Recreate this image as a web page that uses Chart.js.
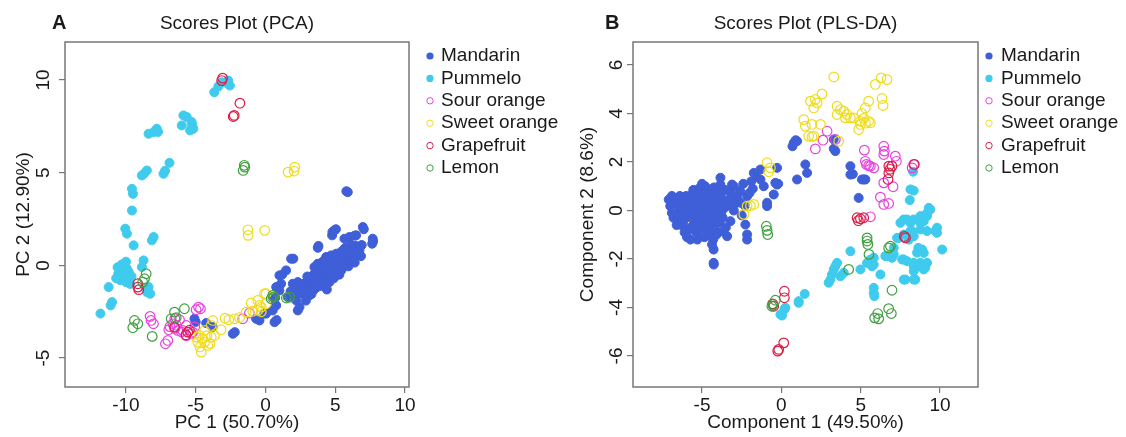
<!DOCTYPE html>
<html>
<head>
<meta charset="utf-8">
<script src="https://cdn.jsdelivr.net/npm/chart.js@4.4.1/dist/chart.umd.min.js"></script>
<style>
  html, body { margin: 0; padding: 0; background: #fff; }
  #wrap { position: relative; width: 1126px; height: 437px; }
  .panel { position: absolute; top: 0; width: 563px; height: 437px; }
</style>
</head>
<body>
<div id="wrap">
  <div class="panel" style="left:0"><canvas id="pca" width="563" height="437"></canvas></div>
  <div class="panel" style="left:563px"><canvas id="pls" width="563" height="437"></canvas></div>
</div>
<script>
// ---- groups (legend order) ----
const GROUPS = ['Mandarin', 'Pummelo', 'Sour orange', 'Sweet orange', 'Grapefruit', 'Lemon'];

// ---- tick labels ----
const PCA_X_TICKS = [-10, -5, 0, 5, 10];
const PCA_Y_TICKS = [-5, 0, 5, 10];
const PLS_X_TICKS = [-5, 0, 5, 10];
const PLS_Y_TICKS = [-6, -4, -2, 0, 2, 4, 6];

// ---- PCA scores [PC1, PC2] ----
const PCA_MANDARIN = [
  [5.8,4.0],[5.9,3.95],[4.8,1.8],[4.95,1.9],[5.05,1.95],[4.78,1.62],[6.98,2.07],[7.05,1.95],
  [5.66,1.44],[6.02,1.53],[6.5,1.62],[6.38,1.6],[7.69,1.44],[7.65,1.17],[7.72,1.3],[3.75,0.95],[3.8,1.05],
  [1.84,0.36],[2.0,0.36],[5.07,0.63],[5.66,0.9],[6.02,0.95],[6.38,0.99],[6.74,0.81],[6.02,0.54],
  [5.54,-0.09],[5.07,-0.27],[4.71,-0.54],[4.59,-0.9],[4.11,-0.63],[3.87,-0.36],[4.35,0.09],[4.83,0.09],
  [5.3,0.27],[5.78,0.45],[3.39,-0.54],[2.92,-0.9],[3.15,-1.1],[4.23,-0.9],[4.35,0.45],[4.71,0.54],
  [3.75,0.09],[3.51,-0.09],[3.63,-0.63],[3.39,-1.08],[3.03,-1.44],[3.15,-1.62],[2.67,-1.53],[2.56,-1.17],
  [2.32,-0.9],[1.96,-0.99],[2.0,-1.35],[1.8,-1.4],[2.2,-1.89],[2.44,-2.25],[2.32,-2.43],[1.48,-0.27],
  [1.0,-0.54],[1.2,-0.5],[1.12,-0.99],[0.77,-1.17],[0.52,-1.8],[0.7,-1.75],[0.65,-3.06],[0.8,-2.95],
  [-0.07,-2.6],[1.6,-1.71],[1.85,-1.65],[4.0,-0.2],[4.2,-0.45],[4.5,-0.1],[4.6,0.2],[4.9,-0.3],
  [5.2,0.1],[5.4,0.35],[5.5,0.6],[5.9,0.7],[6.2,0.75],[6.3,0.4],[6.6,0.6],[5.8,0.1],[5.3,-0.5],
  [4.9,-0.7],[4.4,-0.75],[3.9,-0.85],[3.6,-0.3],[4.1,0.2],[4.6,0.45],[5.0,0.35],[5.6,0.2],[6.1,0.25],
  [6.9,1.1],[6.5,1.05],[3.3,-0.8],[3.0,-0.6],[2.7,-1.0],[3.5,-1.3],[4.0,-1.1],[4.4,-1.3],[2.9,-1.9],
  [2.2,-1.2],[-0.43,-2.97],[-0.67,-2.88],[0.05,-2.6],[0.52,-2.43],[0.77,-2.16],[1.0,-1.35],
  [-5.09,-2.88],[-5.0,-3.05],[-4.25,-3.11],[-3.78,-3.33],[-2.34,-3.69],[-2.2,-3.6],
  [3.2,-1.3],[3.45,-0.85],[3.7,-0.55],[3.95,-0.1],[4.25,0.25],[4.5,0.1],[4.75,0.3],[5.15,0.5],
  [5.45,0.75],[5.75,0.95],[6.15,1.1],[6.6,0.9],[6.85,0.5],[6.4,0.15],[5.95,-0.05],[5.45,-0.25],
  [4.95,-0.5],[4.6,-0.6],[4.15,-0.95],[3.75,-1.15],[3.3,-1.55],[2.85,-1.3],[2.45,-1.5],[2.1,-1.6]
];
const PCA_PUMMELO = [
  [-3.67,9.34],[-3.38,9.65],[-3.14,9.88],[-2.67,9.97],[-2.55,9.7],[-2.8,9.85],
  [-5.88,8.09],[-5.64,8.0],[-6.0,7.55],[-5.29,7.73],[-5.17,7.37],[-5.4,7.28],[-5.25,7.55],
  [-8.38,7.1],[-7.79,7.37],[-8.02,7.19],[-7.7,7.2],[-6.88,5.53],[-7.31,4.94],[-7.2,5.1],
  [-8.86,4.85],[-8.5,5.12],[-8.7,4.95],[-9.57,4.13],[-9.5,3.86],[-9.57,2.96],
  [-10.05,1.98],[-9.93,1.71],[-9.45,1.08],[-8.02,1.53],[-8.14,1.35],
  [-10.6,-0.1],[-10.3,0.05],[-10.0,0.2],[-10.2,-0.2],[-10.55,-0.45],[-10.1,-0.5],[-9.8,-0.35],
  [-10.4,-0.8],[-10.0,-0.9],[-9.7,-1.0],[-10.7,-0.7],[-9.95,-0.15],[-9.6,-0.6],[-10.35,-0.55],
  [-11.24,-1.17],[-11.0,-1.98],[-11.1,-2.16],[-11.83,-2.6],
  [-8.74,0.27],[-8.86,-0.09],[-8.38,-1.17],[-8.26,-1.53],[-8.5,-1.44],[-8.6,-1.2]
];
const PCA_SOUR = [
  [-8.27,-2.75],[-8.2,-2.97],[-8.03,-3.15],[-6.93,-3.47],[-6.85,-3.3],[-7.17,-4.23],[-7.0,-4.05],
  [-6.16,-2.93],[-5.93,-3.51],[-5.68,-3.79],[-5.21,-3.6],[-4.97,-2.39],[-4.66,-2.34],[-4.8,-2.25],
  [-6.28,-3.51],[-6.64,-3.15],[-1.63,-2.88],[-1.15,-2.57],[-5.68,-3.24],[-6.5,-2.87],[-6.38,-3.23],
  [-6.02,-3.59],[-5.31,-3.68],[-5.07,-3.32],[-6.5,-3.4]
];
const PCA_SWEET = [
  [1.62,5.03],[2.1,5.3],[2.05,5.09],[-1.26,1.92],[-1.24,1.62],[-0.05,1.89],
  [-4.61,-4.68],[-4.85,-4.14],[-4.37,-4.14],[-4.13,-4.32],[-4.73,-3.78],[-3.89,-3.87],[-3.66,-3.78],
  [-3.78,-2.97],[-3.89,-3.24],[-3.18,-3.47],[-2.63,-2.93],[-2.22,-2.88],[-1.86,-2.82],[-2.9,-2.85],
  [-1.38,-2.52],[-1.03,-2.03],[-0.55,-1.89],[-0.43,-2.16],[-0.55,-2.43],[-0.3,-2.5],[0.05,-1.53],
  [-0.91,-2.47],[-4.97,-3.87],[-4.2,-3.8],[-4.37,-3.51],[-0.07,-1.53],[0.05,-2.07],[-0.31,-2.25],
  [-4.69,-4.4],[-3.98,-4.22],[-4.5,-3.95]
];
const PCA_GRAPEFRUIT = [
  [-3.07,10.1],[-3.14,9.97],[-1.83,8.75],[-2.24,8.09],[-2.31,8.03],
  [-9.15,-0.99],[-9.15,-1.17],[-9.08,-1.31],[-6.52,-3.33],[-5.57,-3.6],[-5.45,-3.5],[-5.7,-3.75]
];
const PCA_LEMON = [
  [-1.48,5.3],[-1.6,5.12],[-1.52,5.4],[-8.55,-0.45],[-8.67,-0.72],[-8.8,-0.9],
  [-9.39,-2.97],[-9.15,-3.15],[-9.51,-3.36],[-8.12,-3.83],[-6.52,-2.52],[-6.76,-2.88],[-5.81,-2.34],
  [-6.4,-2.82],[0.41,-1.8],[0.52,-1.62],[0.6,-1.7],[1.5,-1.76],[1.74,-1.71]
];

// ---- PLS-DA scores [Component 1, Component 2] ----
const PLS_MANDARIN = [
  [-7.1,0.45],[-7.0,0.18],[-6.9,-0.1],[-6.6,0.3],[-6.5,-0.3],[-6.4,0.0],[-6.3,-0.6],[-6.2,0.4],
  [-6.1,0.1],[-6.0,-0.3],[-5.9,-0.8],[-5.8,0.55],[-5.73,-1.2],[-5.7,0.2],[-5.6,-0.1],[-5.5,-0.5],
  [-5.4,0.7],[-5.35,0.3],[-5.3,-0.9],[-5.2,0.0],[-5.1,-0.3],[-5.05,0.5],[-5.0,-0.65],[-4.95,0.85],
  [-4.9,0.2],[-4.85,-1.1],[-4.8,-0.15],[-4.75,0.45],[-4.7,-0.45],[-4.6,0.05],[-4.55,-0.8],[-4.5,0.65],
  [-4.45,0.3],[-4.4,-0.25],[-4.3,-1.2],[-4.25,0.95],[-4.2,0.1],[-4.15,-0.55],[-4.1,0.5],[-4.0,-0.1],
  [-3.95,-0.9],[-3.9,0.3],[-3.84,1.35],[-3.8,0.75],[-3.7,-0.3],[-3.6,0.1],[-3.5,-0.7],[-3.42,-1.06],
  [-3.3,0.45],[-3.21,-0.44],[-3.11,1.07],[-3.0,1.0],[-3.0,0.0],[-2.8,0.55],[-2.58,0.32],
  [-6.7,0.5],[-6.8,-0.3],[-6.3,-0.2],[-6.0,0.6],[-5.9,0.2],[-5.6,0.4],[-5.5,0.0],[-5.4,-0.3],
  [-5.2,0.4],[-5.15,-0.6],[-5.0,0.15],[-4.9,-0.4],[-4.7,0.15],[-4.65,0.7],[-4.5,-0.2],[-4.4,0.4],
  [-4.3,-0.7],[-4.2,-0.3],[-4.05,0.2],[-3.9,-0.5],[-3.75,0.5],[-4.6,-1.0],[-5.3,-1.2],[-5.7,-0.7],
  [-6.1,-0.9],[-4.8,1.0],[-5.2,0.9],
  [-6.6,-0.6],[-6.4,0.6],[-5.8,-0.2],[-5.55,0.85],[-5.45,-0.85],[-5.0,1.1],[-4.6,-0.6],[-4.35,0.85],
  [-4.0,0.6],[-3.65,-0.85],[-3.55,0.85],[-3.4,0.2],[-3.2,0.75],[-2.9,0.3],[-2.6,0.8],[-2.4,1.1],
  [-2.3,0.2],[-2.5,-0.2],[-1.9,1.2],[-1.8,0.9],[-6.9,0.6],[-6.2,-0.5],[-5.95,-1.1],[-5.25,-0.15],
  [-4.75,-0.8],[-4.1,-1.0],[-3.8,-0.1],[-4.85,0.6],[-5.65,0.65],[-6.45,0.15],
  [-4.27,-1.61],[-4.37,-1.4],[-4.27,-2.16],[-4.26,-2.23],[-3.84,1.07],[-2.27,-0.58],[-2.16,-0.99],
  [-2.16,-1.2],[-2.16,0.59],[-2.0,0.73],[-1.74,1.55],[-1.6,1.4],[-1.32,1.28],[-1.32,1.69],[-1.11,1.0],
  [-0.9,0.32],[-0.9,0.18],[-0.48,0.66],[-0.27,1.07],[-0.38,1.14],[-0.27,1.76],[-0.2,1.1],[0.99,1.28],
  [0.78,2.79],[0.9,2.9],[0.99,2.86],[0.7,2.65],[1.51,1.9],[1.62,1.55],[3.3,2.93],[3.4,2.45],[3.3,2.55],
  [4.35,1.83],[4.35,1.48],[4.5,1.5],[5.08,1.28],[5.29,1.28],[4.87,0.52],[5.19,1.28]
];
const PLS_PUMMELO = [
  [8.3,1.6],[8.13,0.87],[8.34,0.82],[8.09,0.43],[9.29,0.11],[9.39,0.04],[9.18,-0.1],[9.18,-0.23],
  [8.97,-0.44],[8.76,-0.23],[8.34,-0.37],[7.92,-0.37],[7.71,-0.37],[7.5,-0.51],[8.13,-0.51],[8.76,-0.51],
  [8.24,-0.85],[8.76,-0.78],[9.18,-0.85],[9.7,-0.85],[9.81,-0.71],[9.81,-0.92],[10.13,-1.61],[8.34,-1.06],
  [8.03,-1.2],[8.13,-0.85],[7.71,-0.99],[7.39,-1.13],[7.29,-1.13],[7.08,-1.54],[8.55,-1.74],[8.63,-1.54],
  [8.87,-1.61],[8.97,-1.75],[9.18,-2.16],[8.76,-2.16],[8.34,-2.16],[8.34,-2.3],[7.92,-2.09],[7.71,-2.02],
  [7.61,-2.02],[8.55,-2.3],[8.97,-2.43],[9.07,-2.36],[8.34,-2.5],[7.71,-2.85],[7.81,-2.85],[8.44,-2.85],
  [8.34,-2.85],[7.08,-1.81],[6.97,-1.95],[6.66,-1.88],[6.55,-1.88],[5.82,-1.95],[5.61,-2.02],[5.82,-2.23],
  [5.61,-2.16],[5.71,-2.3],[5.4,-2.16],[6.24,-2.64],[5.82,-3.19],[5.82,-3.4],[5.86,-3.53],[4.98,-2.43],
  [4.35,-1.68],[3.51,-2.16],[3.4,-2.3],[3.3,-2.43],[3.19,-2.64],[3.09,-2.85],[2.98,-2.98],[3.72,-2.71],
  [3.93,-2.57],[1.09,-3.74],[1.09,-3.81],[1.47,-3.44],[0.25,-4.01],[0.19,-4.08],[-0.06,-4.29],[0.04,-4.33]
];
const PLS_SOUR = [
  [2.88,3.27],[2.62,2.9],[2.14,2.54],[3.4,2.93],[5.23,2.49],[5.29,2.03],[5.36,1.9],[5.5,1.85],
  [5.61,1.83],[5.82,1.76],[6.45,2.65],[6.49,2.45],[6.45,2.31],[7.18,2.24],[7.25,2.03],[8.34,1.9],
  [8.24,1.76],[7.04,0.98],[6.45,1.14],[6.24,0.55],[6.45,0.25],[6.76,0.29],[5.61,-0.26]
];
const PLS_SWEET = [
  [3.3,5.51],[5.92,5.2],[6.28,5.47],[6.66,5.4],[6.34,4.62],[6.41,4.33],[5.5,4.51],[5.29,4.23],
  [5.08,4.0],[5.19,3.8],[4.98,3.55],[4.87,3.34],[4.98,3.68],[5.5,3.68],[5.61,3.62],[5.3,3.6],
  [4.56,3.82],[4.35,3.82],[4.03,3.82],[3.93,4.1],[3.72,4.16],[3.51,4.3],[4.14,3.96],[3.51,3.96],
  [2.56,4.81],[2.14,4.58],[1.83,4.51],[2.25,4.44],[2.04,4.23],[1.41,3.75],[1.51,3.48],[1.93,3.55],
  [2.46,3.55],[1.72,3.07],[2.04,3.07],[1.93,3.04],[3.61,2.86],
  [-0.9,1.97],[-0.69,1.76],[-0.8,1.6],[-2.16,0.18],[-1.74,0.25],[-2.37,-0.16],[-1.95,0.2]
];
const PLS_GRAPEFRUIT = [
  [6.77,1.83],[6.77,1.55],[6.72,1.28],[6.97,1.83],[6.85,1.7],[4.77,-0.3],[4.98,-0.34],[5.19,-0.3],
  [4.85,-0.42],[7.82,-1.13],[7.75,-1.07],[0.19,-3.33],[0.19,-3.6],[-0.48,-3.95],[-0.55,-3.85],
  [0.15,-5.46],[-0.17,-5.73],[-0.23,-5.8],[8.38,1.9]
];
const PLS_LEMON = [
  [-0.95,-0.65],[-0.9,-0.82],[-0.86,-0.99],[5.4,-1.13],[5.4,-1.26],[5.45,-1.4],[5.52,-1.81],
  [6.76,-1.54],[6.87,-1.47],[4.24,-2.43],[6.97,-3.29],[6.76,-4.05],[6.93,-4.25],[6.07,-4.25],
  [5.88,-4.43],[6.13,-4.47],[-0.52,-3.88],[-0.38,-3.7],[-0.6,-3.95]
];

// ---- styling ----
const FONT = '"Liberation Sans", Arial, sans-serif';
const TEXT = '#1a1a1a';
const FRAME = '#777777';
const COLORS = ['#3f5fd8', '#3ecbee', '#e843dc', '#f0dc1e', '#dc1e46', '#40a040'];
const FILLED = [true, true, false, false, false, false];

function makeDatasets(series) {
  // open circles are drawn over the filled dots
  return series.map((pts, i) => ({
    label: GROUPS[i],
    data: pts.map(([x, y]) => ({ x, y })),
    pointRadius: FILLED[i] ? 4.5 : 4.8,
    pointBorderWidth: FILLED[i] ? 1 : 1.2,
    pointBackgroundColor: FILLED[i] ? COLORS[i] : 'rgba(0,0,0,0)',
    pointBorderColor: COLORS[i],
    order: FILLED[i] ? 10 - i : 6 - i
  }));
}

// frame, rotated y tick labels, panel heading and key
const panelDecor = {
  id: 'panelDecor',
  afterDraw(chart, args, o) {
    const { ctx, chartArea: a } = chart;
    const ys = chart.scales.y;
    ctx.save();
    ctx.strokeStyle = FRAME;
    ctx.lineWidth = 1.5;
    ctx.strokeRect(a.left, a.top, a.right - a.left, a.bottom - a.top);

    ctx.fillStyle = TEXT;
    ctx.font = '19px ' + FONT;
    ctx.textAlign = 'center';
    ctx.textBaseline = 'middle';
    o.yTicks.forEach(v => {
      ctx.save();
      ctx.translate(o.yTickX, ys.getPixelForValue(v));
      ctx.rotate(-Math.PI / 2);
      ctx.fillText(String(v), 0, 0);
      ctx.restore();
    });

    ctx.fillText(o.title, (a.left + a.right) / 2, o.titleY);
    ctx.font = 'bold 20px ' + FONT;
    ctx.textAlign = 'left';
    ctx.fillText(o.letter, o.letterX, o.titleY - 1);

    ctx.font = '19px ' + FONT;
    GROUPS.forEach((g, i) => {
      const y = o.keyY + i * 22.4;
      ctx.beginPath();
      ctx.arc(o.keyDotX, y, FILLED[i] ? 3.6 : 3.2, 0, Math.PI * 2);
      if (FILLED[i]) { ctx.fillStyle = COLORS[i]; ctx.fill(); }
      else { ctx.strokeStyle = COLORS[i]; ctx.lineWidth = 1; ctx.stroke(); }
      ctx.fillStyle = TEXT;
      ctx.fillText(g, o.keyTextX, y);
    });
    ctx.restore();
  }
};

function makeChart(id, cfg) {
  const font = { family: FONT, size: 19 };
  return new Chart(document.getElementById(id), {
    type: 'scatter',
    data: { datasets: makeDatasets(cfg.series) },
    plugins: [panelDecor],
    options: {
      responsive: false,
      animation: false,
      events: [],
      layout: { padding: { left: 0, right: cfg.padRight, top: 42, bottom: 0 } },
      plugins: {
        legend: { display: false },
        title: { display: false },
        tooltip: { enabled: false },
        panelDecor: cfg.decor
      },
      scales: {
        x: {
          type: 'linear', min: cfg.xMin, max: cfg.xMax,
          afterBuildTicks: s => { s.ticks = cfg.xTicks.map(v => ({ value: v })); },
          afterFit: s => { s.height = 50; },
          border: { display: false },
          grid: { drawOnChartArea: false, drawTicks: true, tickLength: 6, color: FRAME, lineWidth: 1.2 },
          ticks: { font, color: TEXT, padding: 1, maxRotation: 0, autoSkip: false },
          title: { display: true, text: cfg.xTitle, font, color: TEXT, padding: { top: 0, bottom: 3 } }
        },
        y: {
          type: 'linear', min: cfg.yMin, max: cfg.yMax,
          afterBuildTicks: s => { s.ticks = cfg.yTicks.map(v => ({ value: v })); },
          afterFit: s => { s.width = cfg.yWidth; },
          border: { display: false },
          grid: { drawOnChartArea: false, drawTicks: true, tickLength: 6, color: FRAME, lineWidth: 1.2 },
          ticks: { display: false },
          title: { display: true, text: cfg.yTitle, font, color: TEXT, padding: { top: cfg.yTitlePad, bottom: 0 } }
        }
      }
    }
  });
}

makeChart('pca', {
  series: [PCA_MANDARIN, PCA_PUMMELO, PCA_SOUR, PCA_SWEET, PCA_GRAPEFRUIT, PCA_LEMON],
  xMin: -14.37, xMax: 10.29, yMin: -6.56, yMax: 12.05,
  xTicks: PCA_X_TICKS, yTicks: PCA_Y_TICKS,
  xTitle: 'PC 1 (50.70%)', yTitle: 'PC 2 (12.90%)',
  padRight: 154, yWidth: 65, yTitlePad: 12,
  decor: { title: 'Scores Plot (PCA)', letter: 'A', letterX: 52, titleY: 24, yTicks: PCA_Y_TICKS,
           yTickX: 44, keyY: 56, keyDotX: 430, keyTextX: 441 }
});

makeChart('pls', {
  series: [PLS_MANDARIN, PLS_PUMMELO, PLS_SOUR, PLS_SWEET, PLS_GRAPEFRUIT, PLS_LEMON],
  xMin: -9.35, xMax: 12.39, yMin: -7.28, yMax: 6.95,
  xTicks: PLS_X_TICKS, yTicks: PLS_Y_TICKS,
  xTitle: 'Component 1 (49.50%)', yTitle: 'Component 2 (8.6%)',
  padRight: 148, yWidth: 70, yTitlePad: 13,
  decor: { title: 'Scores Plot (PLS-DA)', letter: 'B', letterX: 42, titleY: 24, yTicks: PLS_Y_TICKS,
           yTickX: 54, keyY: 56, keyDotX: 426, keyTextX: 438 }
});
</script>
</body>
</html>
